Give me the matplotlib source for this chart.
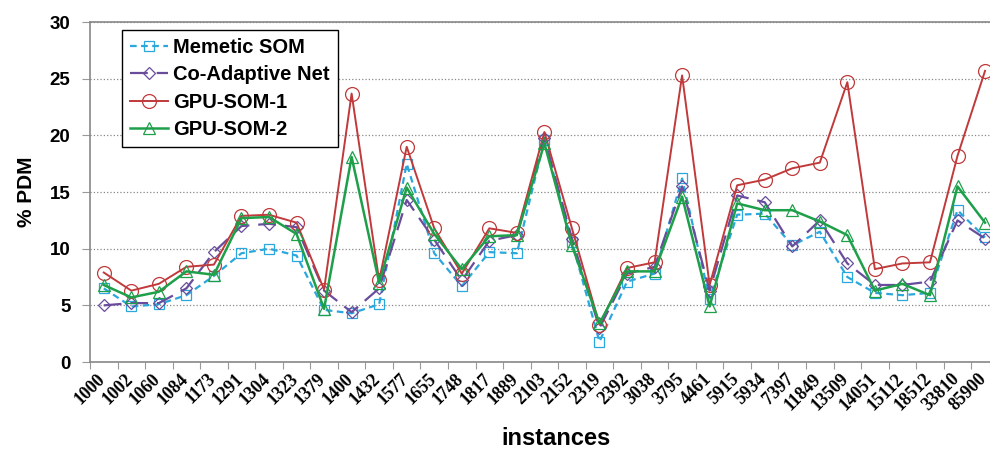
import numpy as np
import matplotlib
matplotlib.use("Agg")
import matplotlib.pyplot as plt

instances = ["1000", "1002", "1060", "1084", "1173", "1291", "1304", "1323", "1379", "1400",
             "1432", "1577", "1655", "1748", "1817", "1889", "2103", "2152", "2319", "2392",
             "3038", "3795", "4461", "5915", "5934", "7397", "11849", "13509", "14051", "15112",
             "18512", "33810", "85900"]

memetic_som = [6.5, 4.9, 5.1, 5.9, 7.6, 9.6, 10.0, 9.4, 4.6, 4.3,
               5.1, 17.5, 9.6, 6.7, 9.7, 9.6, 19.6, 10.6, 1.8, 7.1,
               7.8, 16.2, 5.6, 13.0, 13.1, 10.3, 11.5, 7.5, 6.1, 5.9,
               6.1, 13.4, 11.0]
co_adaptive = [5.0, 5.2, 5.2, 6.5, 9.7, 12.0, 12.2, 11.9, 6.3, 4.4,
               6.5, 14.3, 10.8, 7.2, 10.7, 11.2, 19.8, 10.9, 3.0, 7.8,
               8.4, 15.5, 6.3, 14.7, 14.1, 10.2, 12.5, 8.7, 6.8, 6.8,
               7.1, 12.5, 10.9]
gpu_som_1 = [7.9, 6.3, 6.9, 8.4, 8.6, 12.9, 13.0, 12.3, 6.4, 23.7,
             7.2, 19.0, 11.8, 7.8, 11.8, 11.4, 20.3, 11.8, 3.3, 8.3,
             8.8, 25.3, 6.8, 15.6, 16.1, 17.1, 17.6, 24.7, 8.2, 8.7,
             8.8, 18.2, 25.7]
gpu_som_2 = [6.8, 5.7, 6.2, 8.0, 7.7, 12.7, 12.8, 11.3, 4.7, 18.1,
             7.0, 15.4, 11.3, 8.2, 11.1, 11.2, 19.3, 10.3, 3.4, 8.0,
             8.0, 14.6, 4.9, 14.0, 13.4, 13.4, 12.4, 11.2, 6.3, 6.9,
             5.9, 15.5, 12.3]

x = np.arange(len(instances))

fig = plt.figure(figsize=(9.9, 4.58), dpi=100)
ax = fig.add_axes([0.0909, 0.2096, 0.918, 0.742])

ax.plot(x, memetic_som, color="#2aa7dc", linestyle=(0, (3, 2)), linewidth=1.6,
        marker="s", markersize=7, markerfacecolor="none", markeredgewidth=0.9,
        label="Memetic SOM")
ax.plot(x, co_adaptive, color="#6a4c9c", linestyle=(0, (8, 4)), linewidth=1.6,
        marker="D", markersize=6, markerfacecolor="none", markeredgewidth=0.9,
        label="Co-Adaptive Net")
ax.plot(x, gpu_som_1, color="#c0393b", linestyle="-", linewidth=1.4,
        marker="o", markersize=10, markerfacecolor="none", markeredgewidth=0.9,
        label="GPU-SOM-1")
ax.plot(x, gpu_som_2, color="#1e9f4a", linestyle="-", linewidth=1.8,
        marker="^", markersize=8, markerfacecolor="none", markeredgewidth=0.9,
        label="GPU-SOM-2")

ax.set_xlim(-0.5, len(instances) - 0.5)
ax.set_ylim(0, 30)
ax.set_yticks(np.arange(0, 31, 5))
ax.yaxis.grid(True, linestyle=":", color="#888888", linewidth=0.9)
ax.set_axisbelow(True)

# tick marks sit between categories; the category names go under each point
ax.set_xticks(np.arange(len(instances) + 1) - 0.5)
ax.set_xticklabels([])
ax.tick_params(axis="x", which="major", length=5, color="#999999")
for i, name in enumerate(instances):
    ax.annotate(name, xy=(i, 0), xycoords=ax.get_xaxis_transform(),
                xytext=(-5, -6), textcoords="offset points",
                rotation=45, ha="right", va="top", rotation_mode="anchor",
                family="Liberation Serif", fontweight="bold", fontsize=13,
                annotation_clip=False)

ax.tick_params(axis="y", length=6, pad=8, color="#999999")
for lab in ax.get_yticklabels():
    lab.set_family("Liberation Sans")
    lab.set_fontweight("bold")
    lab.set_fontsize(13.5)

for side in ["top", "left", "bottom", "right"]:
    ax.spines[side].set_color("#888888")
    ax.spines[side].set_linewidth(1.2)

ax.set_xlabel("instances", family="Liberation Sans", fontweight="bold", fontsize=17)
ax.xaxis.set_label_coords(0.513, -0.19)
ax.set_ylabel("% PDM", family="Liberation Sans", fontweight="bold", fontsize=15, labelpad=10)

leg = ax.legend(loc="upper left", bbox_to_anchor=(0.035, 0.978), fancybox=False,
                edgecolor="black", framealpha=1, borderpad=0.4, labelspacing=0.42,
                handlelength=1.9, handletextpad=0.25, borderaxespad=0,
                prop={"family": "Liberation Sans", "weight": "bold", "size": 14.5})
leg.get_frame().set_linewidth(1.0)

fig.savefig("out.png", dpi=100)
